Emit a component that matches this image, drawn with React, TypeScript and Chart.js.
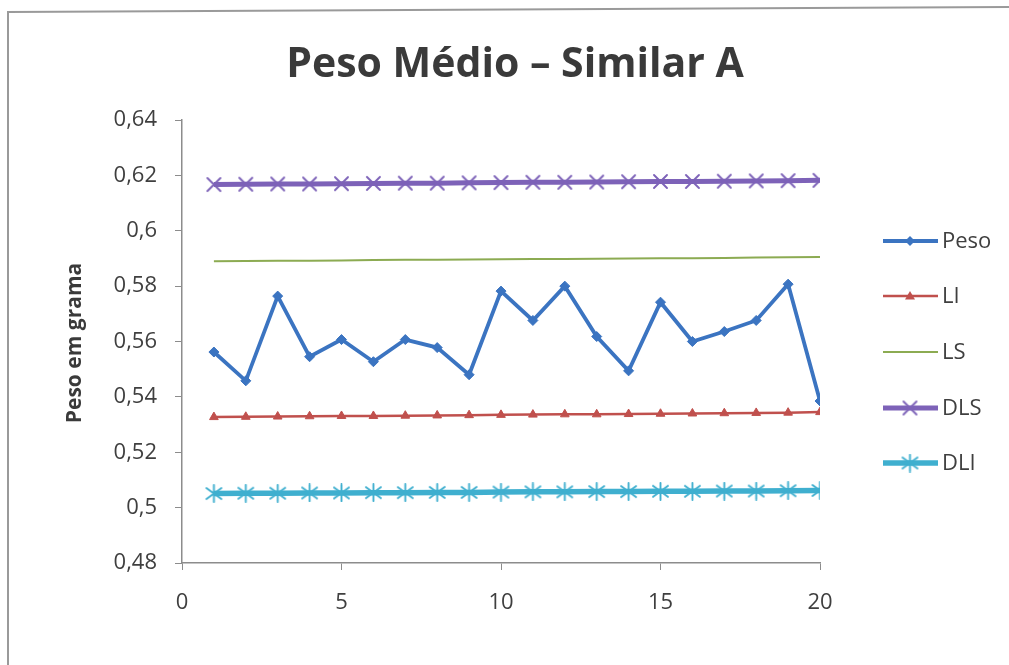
import { useEffect, useRef } from "react";
import { Chart, registerables } from "chart.js";

Chart.register(...registerables);

const FONT = "'Open Sans', 'DejaVu Sans', sans-serif";
const TITLE = "Peso Médio – Similar A";
const Y_TITLE = "Peso em grama";

const samples = [1, 2, 3, 4, 5, 6, 7, 8, 9, 10, 11, 12, 13, 14, 15, 16, 17, 18, 19, 20];
const peso = [0.5562, 0.5458, 0.5764, 0.5545, 0.5607, 0.5527, 0.5607, 0.5578, 0.548, 0.5782, 0.5676, 0.58, 0.5618, 0.5494, 0.5742, 0.56, 0.5636, 0.5676, 0.5807, 0.5385];
const li = [0.5327, 0.5328, 0.5329, 0.533, 0.5331, 0.5331, 0.5332, 0.5333, 0.5334, 0.5335, 0.5336, 0.5337, 0.5337, 0.5338, 0.5339, 0.534, 0.5341, 0.5342, 0.5343, 0.5345];
const ls = [0.589, 0.5891, 0.5892, 0.5892, 0.5893, 0.5894, 0.5895, 0.5895, 0.5896, 0.5897, 0.5898, 0.5898, 0.5899, 0.59, 0.5901, 0.5901, 0.5902, 0.5903, 0.5904, 0.5905];
const dls = [0.6167, 0.6168, 0.6169, 0.6169, 0.617, 0.6171, 0.6172, 0.6172, 0.6173, 0.6174, 0.6175, 0.6175, 0.6176, 0.6177, 0.6178, 0.6178, 0.6179, 0.618, 0.6181, 0.6182];
const dli = [0.5051, 0.5052, 0.5052, 0.5053, 0.5053, 0.5054, 0.5054, 0.5055, 0.5055, 0.5056, 0.5057, 0.5057, 0.5058, 0.5058, 0.5059, 0.5059, 0.506, 0.506, 0.5061, 0.5062];

const xTicks = [0, 5, 10, 15, 20];
const yTicks = [0.48, 0.5, 0.52, 0.54, 0.56, 0.58, 0.6, 0.62, 0.64];
const seriesNames = ["Peso", "LI", "LS", "DLS", "DLI"];

const C_PESO = "#3b74c1";
const C_LI = "#c0504d";
const C_LS = "#8cab52";
const C_DLS = "#7d62b8";
const C_DLI = "#3fafcf";
const AXIS = "#8c8c8c";
const TEXT = "#3f3f3f";

function makeXMarker(color: string, size: number, lw: number) {
  const c = document.createElement("canvas");
  c.width = size;
  c.height = size;
  const g = c.getContext("2d")!;
  g.strokeStyle = color;
  g.lineWidth = lw;
  g.lineCap = "round";
  const m = 2;
  g.beginPath();
  g.moveTo(m, m);
  g.lineTo(size - m, size - m);
  g.moveTo(size - m, m);
  g.lineTo(m, size - m);
  g.stroke();
  return c;
}

function makeStarMarker(color: string, size: number, lw: number) {
  const c = document.createElement("canvas");
  c.width = size;
  c.height = size;
  const g = c.getContext("2d")!;
  g.strokeStyle = color;
  g.lineWidth = lw;
  g.lineCap = "round";
  const m = 2;
  const h = size / 2;
  g.beginPath();
  g.moveTo(h, 1);
  g.lineTo(h, size - 1);
  g.moveTo(m, m + 2);
  g.lineTo(size - m, size - m - 2);
  g.moveTo(size - m, m + 2);
  g.lineTo(m, size - m - 2);
  g.stroke();
  return c;
}

const toPoints = (vals: number[]) => samples.map((x, i) => ({ x, y: vals[i] }));

export default function App() {
  const ref = useRef<HTMLCanvasElement | null>(null);

  useEffect(() => {
    const canvas = ref.current;
    if (!canvas) return;
    const xMark = makeXMarker(C_DLS, 17, 1.9);
    const starMark = makeStarMarker(C_DLI, 19, 1.9);

    const styles = [
      { color: C_PESO, width: 3.8, kind: "diamond" },
      { color: C_LI, width: 2.5, kind: "triangle" },
      { color: C_LS, width: 2, kind: "none" },
      { color: C_DLS, width: 5, kind: "x" },
      { color: C_DLI, width: 5.5, kind: "star" },
    ];

    const decor = {
      id: "decor",
      beforeDraw(chart: any) {
        const ctx = chart.ctx;
        ctx.save();
        ctx.fillStyle = "#ffffff";
        ctx.fillRect(0, 0, chart.width, chart.height);
        ctx.strokeStyle = "#9a9a9a";
        ctx.lineWidth = 2;
        ctx.beginPath();
        ctx.moveTo(8, 665);
        ctx.lineTo(8, 12);
        ctx.lineTo(1009, 7);
        ctx.stroke();
        ctx.restore();
      },
      afterDraw(chart: any) {
        const ctx = chart.ctx;
        ctx.save();
        // title
        ctx.fillStyle = "#3a3a3a";
        ctx.font = `bold 41px ${FONT}`;
        ctx.textAlign = "center";
        ctx.textBaseline = "alphabetic";
        ctx.fillText(TITLE, 515, 77);
        // y title
        ctx.save();
        ctx.translate(75, 343);
        ctx.rotate(-Math.PI / 2);
        ctx.font = `bold 21px ${FONT}`;
        ctx.textBaseline = "middle";
        ctx.fillText(Y_TITLE, 0, 0);
        ctx.restore();
        // legend
        const ys = [241, 296, 352, 408, 463];
        ctx.font = `22px ${FONT}`;
        ctx.textAlign = "left";
        ctx.textBaseline = "middle";
        seriesNames.forEach((name, i) => {
          const st = styles[i];
          const y = ys[i];
          ctx.strokeStyle = st.color;
          ctx.lineWidth = st.width;
          ctx.beginPath();
          ctx.moveTo(883, y);
          ctx.lineTo(938, y);
          ctx.stroke();
          const cx = 910;
          ctx.fillStyle = st.color;
          if (st.kind === "diamond") {
            ctx.beginPath();
            ctx.moveTo(cx, y - 5);
            ctx.lineTo(cx + 5, y);
            ctx.lineTo(cx, y + 5);
            ctx.lineTo(cx - 5, y);
            ctx.closePath();
            ctx.fill();
          } else if (st.kind === "triangle") {
            ctx.beginPath();
            ctx.moveTo(cx, y - 5);
            ctx.lineTo(cx + 5, y + 3.5);
            ctx.lineTo(cx - 5, y + 3.5);
            ctx.closePath();
            ctx.fill();
          } else if (st.kind === "x") {
            ctx.drawImage(xMark, cx - 8.5, y - 8.5);
          } else if (st.kind === "star") {
            ctx.drawImage(starMark, cx - 9.5, y - 9.5);
          }
          ctx.fillStyle = TEXT;
          ctx.fillText(name, 942, y + 1);
        });
        ctx.restore();
      },
    };

    const chart = new Chart(canvas, {
      type: "line",
      data: {
        datasets: [
          {
            label: seriesNames[0],
            data: toPoints(peso),
            borderColor: C_PESO,
            backgroundColor: C_PESO,
            borderWidth: 3.8,
            pointStyle: "rectRot",
            pointRadius: 5,
            pointBorderWidth: 1,
            tension: 0,
          },
          {
            label: seriesNames[1],
            data: toPoints(li),
            borderColor: C_LI,
            backgroundColor: C_LI,
            borderWidth: 2.5,
            pointStyle: "triangle",
            pointRadius: 5,
            pointBorderWidth: 1,
          },
          {
            label: seriesNames[2],
            data: toPoints(ls),
            borderColor: C_LS,
            backgroundColor: C_LS,
            borderWidth: 2,
            pointRadius: 0,
          },
          {
            label: seriesNames[3],
            data: toPoints(dls),
            borderColor: C_DLS,
            backgroundColor: C_DLS,
            borderWidth: 5,
            pointStyle: xMark as any,
            pointRadius: 8,
          },
          {
            label: seriesNames[4],
            data: toPoints(dli),
            borderColor: C_DLI,
            backgroundColor: C_DLI,
            borderWidth: 5.5,
            pointStyle: starMark as any,
            pointRadius: 9,
          },
        ],
      },
      options: {
        animation: false,
        responsive: false,
        devicePixelRatio: 1,
        layout: { padding: { left: 0, top: 120, right: 189, bottom: 40 } },
        plugins: {
          legend: { display: false },
          title: { display: false },
          tooltip: { enabled: false },
        },
        scales: {
          x: {
            type: "linear",
            min: 0,
            max: 20,
            afterBuildTicks: (s: any) => {
              s.ticks = xTicks.map((v) => ({ value: v }));
            },
            afterFit: (s: any) => {
              s.height = 62;
            },
            grid: { drawOnChartArea: false, drawTicks: true, tickLength: 7, color: AXIS },
            border: { display: true, color: AXIS, width: 1.5 },
            ticks: {
              font: { family: FONT, size: 22 },
              color: TEXT,
              padding: 20,
              maxRotation: 0,
              autoSkip: false,
            },
          },
          y: {
            type: "linear",
            min: 0.48,
            max: 0.64,
            afterBuildTicks: (s: any) => {
              s.ticks = yTicks.map((v) => ({ value: v }));
            },
            afterFit: (s: any) => {
              s.width = 182;
            },
            grid: { drawOnChartArea: false, drawTicks: true, tickLength: 7, color: AXIS },
            border: { display: true, color: AXIS, width: 1.5 },
            ticks: {
              font: { family: FONT, size: 22 },
              color: TEXT,
              padding: 18,
              autoSkip: false,
              callback: (v: any) => String(Math.round(Number(v) * 100) / 100).replace(".", ","),
            },
          },
        },
      },
      plugins: [decor],
    } as any);

    return () => chart.destroy();
  }, []);

  return (
    <div style={{ position: "absolute", left: 0, top: 0, width: 1009, height: 665, background: "#fff" }}>
      <canvas ref={ref} width={1009} height={665} style={{ display: "block", width: 1009, height: 665 }} />
    </div>
  );
}
